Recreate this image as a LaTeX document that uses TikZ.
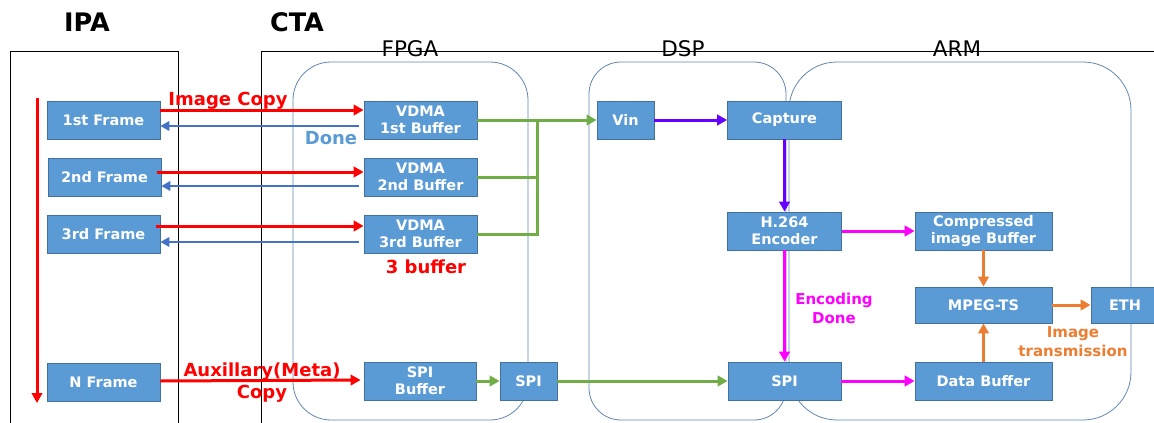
\documentclass[tikz,border=0pt]{standalone}
\usepackage{fontspec}
\setmainfont{DejaVu Sans}
\usetikzlibrary{arrows.meta}
\definecolor{boxfill}{RGB}{91,155,213}
\definecolor{boxedge}{RGB}{65,113,156}
\definecolor{zone}{RGB}{98,134,176}
\definecolor{copyred}{RGB}{255,0,0}
\definecolor{doneblue}{RGB}{68,114,196}
\definecolor{donetext}{RGB}{91,155,213}
\definecolor{flowgreen}{RGB}{112,173,71}
\definecolor{flowviolet}{RGB}{102,0,255}
\definecolor{flowmagenta}{RGB}{255,0,255}
\definecolor{floworange}{RGB}{237,125,49}
\begin{document}
\begin{tikzpicture}[x=1pt,y=-1pt,
  blk/.style={draw=boxedge,fill=boxfill,line width=0.8pt,text=white,
    font=\bfseries\fontsize{14.5}{17}\selectfont,align=center,inner sep=0pt,
    minimum height=38pt},
  zonebox/.style={draw=zone,line width=0.8pt},
  lane/.style={draw=black,line width=0.8pt},
  flow/.style={line width=3pt,-{Triangle[length=10pt,width=10.5pt]}},
  back/.style={line width=2.5pt,-{Triangle[length=9pt,width=9.5pt]}},
  head/.style={font=\bfseries\fontsize{25.5}{28}\selectfont},
  unit/.style={font=\fontsize{21.5}{24}\selectfont},
  note/.style={font=\bfseries\fontsize{18}{22}\selectfont,align=center},
  small note/.style={font=\bfseries\fontsize{15}{19}\selectfont,align=center}]
\useasboundingbox (0,0) rectangle (1154,423);

% swim lanes
\draw[lane] (10,423) -- (10,51) -- (178,51) -- (178,423);
\draw[lane] (261,423) -- (261,51) -- (1160,51);
\node[head] (ipa) at (87,22.5) {IPA};
\node[head] (cta) at (297,22.5) {CTA};

% processor zones
\draw[zonebox,rounded corners=38pt] (293,62) rectangle (528,420);
\draw[zonebox,rounded corners=32pt] (589,62) rectangle (786,420);
\draw[zonebox,rounded corners=48pt] (789,62) rectangle (1131,420);
\node[unit] (fpga) at (410,49) {FPGA};
\node[unit] (dsp) at (683,49) {DSP};
\node[unit] (arm) at (957,49) {ARM};

% IPA frames
\node[blk,minimum width=113pt] (f1) at (103.5,120) {1st Frame};
\node[blk,minimum width=113pt] (f2) at (104.5,177) {2nd Frame};
\node[blk,minimum width=113pt] (f3) at (103.5,234) {3rd Frame};
\node[blk,minimum width=113pt] (fn) at (103.5,382) {N Frame};

% FPGA blocks
\node[blk,minimum width=113pt] (v1) at (420.5,120) {VDMA\\1st Buffer};
\node[blk,minimum width=113pt] (v2) at (420.5,177) {VDMA\\2nd Buffer};
\node[blk,minimum width=113pt] (v3) at (420.5,234) {VDMA\\3rd Buffer};
\node[blk,minimum width=112pt] (sb) at (420,381) {SPI\\Buffer};
\node[blk,minimum width=57pt] (spa) at (528.5,381) {SPI};

% DSP blocks
\node[blk,minimum width=57pt] (vin) at (625.5,120) {Vin};
\node[blk,minimum width=114pt] (cap) at (784.5,120) {Capture};
\node[blk,minimum width=114pt] (enc) at (784.5,231) {H.264\\Encoder};
\node[blk,minimum width=113pt] (spd) at (784.5,381) {SPI};

% ARM blocks
\node[blk,minimum width=137pt] (cib) at (983.5,231) {Compressed\\image Buffer};
\node[blk,minimum width=137pt,minimum height=36pt] (mts) at (983.5,305) {MPEG-TS};
\node[blk,minimum width=68pt,minimum height=36pt] (eth) at (1125,305) {ETH};
\node[blk,minimum width=137pt] (db) at (983.5,381) {Data Buffer};

% frame sequence
\coordinate (seqtop) at (37,98);
\coordinate (seqend) at (37,403);
\draw[flow,copyred] (seqtop) -- (seqend);

% copy / done handshakes
\draw[flow,copyred] ([yshift=10pt]f1.east) -- ([yshift=10pt]v1.west);
\draw[back,doneblue] ([xshift=-5pt,yshift=-6pt]v1.west) -- ([yshift=-6pt]f1.east);
\draw[flow,copyred] ([xshift=-4pt,yshift=5pt]f2.east) -- ([yshift=5pt]v2.west);
\draw[back,doneblue] ([xshift=-5pt,yshift=-9pt]v2.west) -- ([yshift=-9pt]f2.east);
\draw[flow,copyred] ([xshift=-4pt,yshift=8pt]f3.east) -- ([yshift=8pt]v3.west);
\draw[back,doneblue] ([xshift=-5pt,yshift=-8pt]v3.west) -- ([yshift=-8pt]f3.east);
\draw[flow,copyred] ([yshift=1pt]fn.east) -- ([xshift=-3pt,yshift=1pt]sb.west);

\node[note,text=copyred,anchor=base] (lcopy) at (228,105) {Image Copy};
\node[note,text=donetext,anchor=base] (ldone) at (331,144) {Done};
\node[note,text=copyred] (lmeta) at (262,383) {Auxillary(Meta)\\Copy};
\node[note,text=copyred,anchor=base] (lbuf) at (426,273) {3 buffer};

% video path
\coordinate (join) at (537,120);
\draw[flow,flowgreen] (v1.east) -- (vin.west);
\draw[line width=3pt,flowgreen] (v2.east) -| (join);
\draw[line width=3pt,flowgreen] (v3.east) -| (join);
\draw[flow,flowgreen] (sb.east) -- (spa.west);
\draw[flow,flowgreen] (spa.east) -- (spd.west);

\draw[flow,flowviolet] (vin.east) -- (cap.west);
\draw[flow,flowviolet] (cap.south) -- (enc.north);

\draw[flow,flowmagenta] (enc.east) -- (cib.west);
\draw[flow,flowmagenta] (enc.south) -- (spd.north);
\draw[flow,flowmagenta] (spd.east) -- (db.west);
\node[small note,text=flowmagenta] (lenc) at (834,308) {Encoding\\Done};

\draw[flow,floworange] (cib.south) -- (mts.north);
\draw[flow,floworange] (db.north) -- (mts.south);
\draw[flow,floworange] (mts.east) -- (eth.west);
\node[small note,text=floworange] (ltx) at (1073,342) {Image\\transmission};
\end{tikzpicture}
\end{document}
